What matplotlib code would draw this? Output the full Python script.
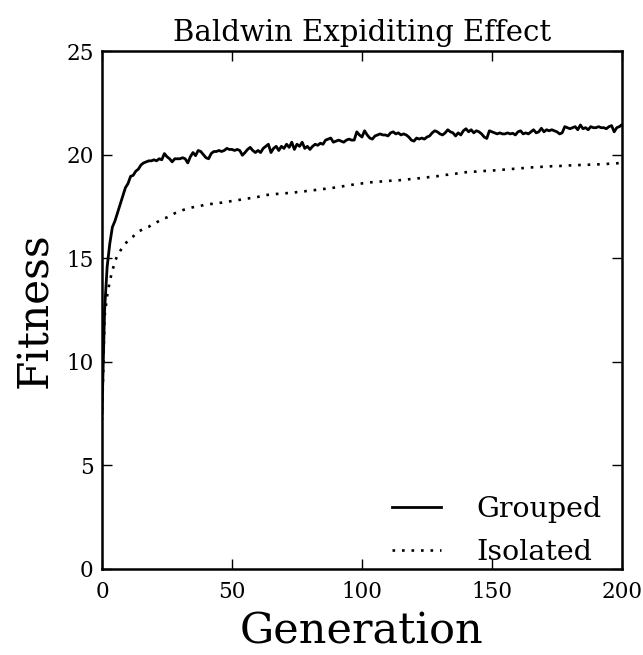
import numpy as np
import matplotlib
matplotlib.use("Agg")
import matplotlib.pyplot as plt

# mean fitness per generation
grouped = [
    7.5, 12.5, 14.6, 15.7, 16.5, 16.8, 17.2, 17.6, 18.0, 18.4,
    18.6, 18.95, 19.0, 19.2, 19.3, 19.5, 19.6, 19.65, 19.7, 19.7,
    19.75, 19.7, 19.8, 19.75, 20.05, 19.9, 19.8, 19.65, 19.8, 19.8,
    19.8, 19.85, 19.8, 19.6, 19.9, 20.1, 19.95, 20.2, 20.15, 20.0,
    19.85, 19.8, 20.05, 20.15, 20.15, 20.2, 20.15, 20.2, 20.3, 20.25,
    20.25, 20.2, 20.25, 20.2, 19.97, 20.1, 20.25, 20.35, 20.2, 20.1,
    20.2, 20.1, 20.3, 20.4, 20.5, 20.1, 20.3, 20.4, 20.2, 20.4,
    20.3, 20.5, 20.35, 20.6, 20.25, 20.5, 20.4, 20.6, 20.3, 20.4,
    20.25, 20.4, 20.5, 20.45, 20.55, 20.5, 20.7, 20.75, 20.8, 20.6,
    20.65, 20.7, 20.65, 20.6, 20.7, 20.75, 20.7, 20.7, 21.1, 20.95,
    20.85, 21.15, 20.95, 20.8, 20.75, 20.9, 20.95, 21.0, 20.95, 20.95,
    20.9, 21.05, 21.1, 21.0, 21.05, 20.95, 21.0, 20.95, 20.85, 20.7,
    20.65, 20.8, 20.75, 20.8, 20.75, 20.85, 20.9, 21.05, 21.15, 21.1,
    21.0, 20.95, 21.05, 21.2, 21.1, 21.05, 20.9, 21.05, 20.95, 21.15,
    21.25, 21.1, 21.2, 21.05, 21.15, 21.1, 21.0, 20.85, 20.78, 21.15,
    21.1, 21.05, 21.0, 21.05, 21.0, 21.0, 21.05, 21.0, 21.03, 20.95,
    21.1, 21.15, 21.0, 21.05, 21.0, 21.1, 21.2, 21.05, 21.1, 21.27,
    21.1, 21.2, 21.15, 21.2, 21.15, 21.1, 21.0, 21.05, 21.35, 21.3,
    21.25, 21.3, 21.35, 21.2, 21.43, 21.25, 21.3, 21.2, 21.35, 21.3,
    21.3, 21.35, 21.3, 21.3, 21.25, 21.35, 21.4, 21.1, 21.3, 21.35,
    21.45,
]

isolated = [
    7.2, 12.2, 13.2, 13.9, 14.4, 14.85, 15.15, 15.35, 15.55, 15.7,
    15.85, 15.95, 16.05, 16.18, 16.28, 16.35, 16.42, 16.48, 16.52, 16.6,
    16.67, 16.73, 16.8, 16.86, 16.92, 16.97, 17.03, 17.1, 17.17, 17.22,
    17.27, 17.32, 17.36, 17.4, 17.43, 17.46, 17.49, 17.51, 17.53, 17.56,
    17.58, 17.6, 17.62, 17.63, 17.65, 17.67, 17.68, 17.7, 17.72, 17.74,
    17.76, 17.78, 17.8, 17.82, 17.84, 17.86, 17.88, 17.9, 17.92, 17.94,
    17.96, 17.99, 18.02, 18.05, 18.06, 18.07, 18.08, 18.1, 18.11, 18.12,
    18.13, 18.14, 18.15, 18.16, 18.17, 18.19, 18.2, 18.22, 18.23, 18.25,
    18.26, 18.28, 18.29, 18.31, 18.32, 18.34, 18.35, 18.37, 18.38, 18.4,
    18.42, 18.44, 18.46, 18.48, 18.5, 18.52, 18.54, 18.56, 18.58, 18.6,
    18.61, 18.63, 18.65, 18.66, 18.67, 18.68, 18.69, 18.7, 18.71, 18.72,
    18.73, 18.74, 18.75, 18.76, 18.76, 18.77, 18.78, 18.8, 18.81, 18.82,
    18.84, 18.85, 18.86, 18.88, 18.89, 18.9, 18.92, 18.93, 18.95, 18.96,
    18.98, 19.0, 19.02, 19.03, 19.05, 19.07, 19.08, 19.1, 19.12, 19.13,
    19.15, 19.16, 19.17, 19.18, 19.18, 19.19, 19.2, 19.21, 19.22, 19.22,
    19.23, 19.24, 19.25, 19.26, 19.27, 19.28, 19.29, 19.3, 19.31, 19.32,
    19.33, 19.34, 19.35, 19.36, 19.37, 19.38, 19.39, 19.4, 19.4, 19.41,
    19.42, 19.42, 19.43, 19.44, 19.44, 19.45, 19.45, 19.46, 19.46, 19.47,
    19.48, 19.48, 19.49, 19.49, 19.5, 19.5, 19.51, 19.51, 19.52, 19.52,
    19.53, 19.53, 19.54, 19.55, 19.55, 19.56, 19.57, 19.57, 19.58, 19.59,
    19.6,
]

xticks = [0, 50, 100, 150, 200]
yticks = [0, 5, 10, 15, 20, 25]

plt.rcParams['font.family'] = ['DejaVu Serif']

fig = plt.figure(figsize=(6.43, 6.55), dpi=100)
ax = fig.add_axes([0.1586, 0.1313, 0.8087, 0.7908])

ax.plot(np.arange(len(grouped)), grouped, 'k-', lw=2.0, label='Grouped')
ax.plot(np.arange(len(isolated)), isolated, color='k', ls=(0, (1, 2.6)),
        lw=1.9, label='Isolated')

ax.set_xlim(0, 200)
ax.set_ylim(0, 25)
ax.set_xticks(xticks)
ax.set_yticks(yticks)
ax.tick_params(direction='in', top=True, right=True, length=7, width=1,
               labelsize=15.5, pad=6)
ax.tick_params(axis='x', pad=9)
for s in ax.spines.values():
    s.set_linewidth(1.8)

ax.set_title('Baldwin Expiditing Effect', fontsize=21, pad=7)
ax.set_xlabel('Generation', fontsize=31, labelpad=5)
ax.set_ylabel('Fitness', fontsize=30.5, labelpad=7)
ax.legend(loc='lower right', bbox_to_anchor=(0.985, -0.018), frameon=False,
          fontsize=20.5, handlelength=1.7, handletextpad=1.25,
          labelspacing=0.55, borderaxespad=0.15, borderpad=0.3)

fig.savefig('out.png', dpi=100)
